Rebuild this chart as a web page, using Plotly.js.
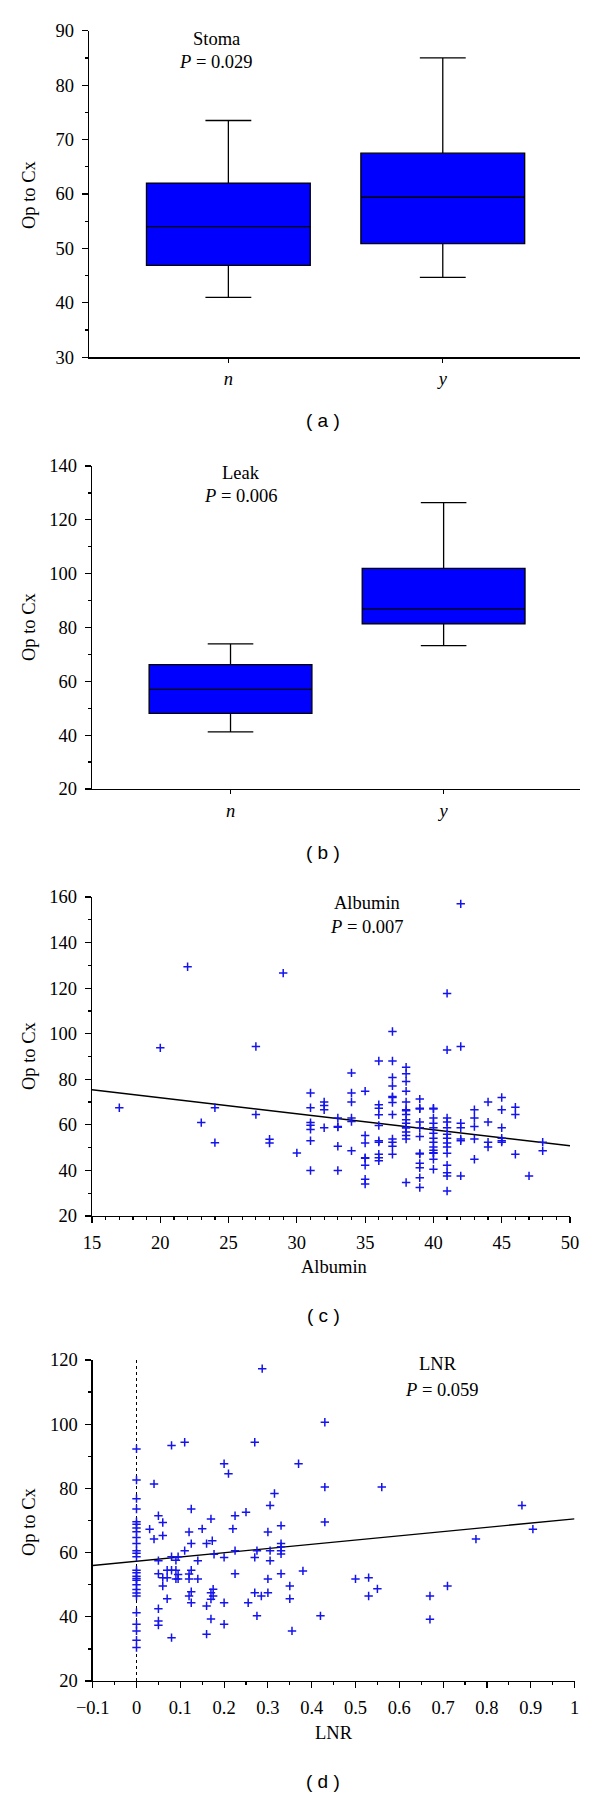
<!DOCTYPE html>
<html>
<head>
<meta charset="utf-8">
<script src="https://cdn.plot.ly/plotly-3.0.1.min.js"></script>
<style>html,body{margin:0;padding:0;background:#fff;}#chart{width:600px;height:1796px;}</style>
</head>
<body>
<div id="chart"></div>
<script>
// ---------- data ----------
var boxCats = ['n', 'y'];
var boxPos = [0, 1];
var tickLabelsBox = ['<i>n</i>', '<i>y</i>'];

// (a) Stoma
var stomaLow = [41, 44.7];
var stomaQ1 = [46.9, 50.9];
var stomaMed = [54, 59.4];
var stomaQ3 = [62, 67.5];
var stomaHigh = [73.5, 85];

// (b) Leak
var leakLow = [41.2, 73.3];
var leakQ1 = [48.1, 81.4];
var leakMed = [57, 86.9];
var leakQ3 = [66.2, 102];
var leakHigh = [73.9, 126.4];

// (c) Albumin vs Op to Cx
var albX = [17,20,22,23,24,24,27,27,28,28,29,30,
  31,31,31,31,31,31,31,
  32,32,32,32,
  33,33,33,33,33,
  34,34,34,34,34,34,
  35,35,35,35,35,35,35,35,
  36,36,36,36,36,36,36,36,36,36,
  37,37,37,37,37,37,37,37,37,37,37,37,
  38,38,38,38,38,38,38,38,38,38,38,38,38,38,38,38,
  39,39,39,39,39,39,39,39,39,39,39,39,
  40,40,40,40,40,40,40,40,40,40,40,40,40,40,
  41,41,41,41,41,41,41,41,41,41,41,41,41,41,
  42,42,42,42,42,42,42,
  43,43,43,43,43,
  44,44,44,44,
  45,45,45,45,45,45,
  46,46,46,
  47,
  48,48];
var albY = [67.5,93.8,129.4,61,67.5,52.2,94.4,64.5,53.7,52,126.6,47.7,
  74,67.5,61,59.8,58,53,40,
  70,68.5,66.6,58.7,
  63,59.3,59,50.6,40,
  82.8,74,70,63,61.5,48.6,
  74.8,55.3,52,45.6,45.3,42.3,36.1,34,
  88,68.8,67.3,64.4,59.7,53,52.4,47.1,45.6,44.2,
  101,88,80.8,77.1,72.4,72,69.8,64.5,53.8,52.4,50.6,47.1,
  85.3,82.4,79,74.8,70,66.6,66.2,64.5,62.2,60.7,59,58.6,56.9,55.3,53.8,34.7,
  71.3,67.3,67,61.2,58.7,54.9,47.5,47.2,43.1,41.2,36.8,32.5,
  67.3,67,63,60.7,58.7,56.3,54.1,52.4,50.3,48.9,47.8,47.5,44.9,40.5,
  117.7,92.9,63,61.2,58.7,55.9,54.1,52,50.3,47.5,42.3,39,37.6,31,
  157,94.4,60.7,58.7,53.8,53,37.6,
  66.6,63,59.3,53.8,44.9,
  70,61.2,52.4,50.3,
  72,66.6,58.7,54.1,53,52.4,
  67.7,64.5,47.1,
  37.6,
  52.4,48.6];
var albFitX = [15, 50];
var albFitY = [75.4, 50.8];

// (d) LNR vs Op to Cx
var lnrX = [0,0,0,0,0,0,0,0,0,0,0,0,0,0,0,0,0,0,0,0,0,0,0,0,0,0,0,
  0.03,0.04,0.04,0.05,0.05,0.05,0.05,0.05,0.05,
  0.06,0.06,0.06,0.06,0.07,0.07,0.07,
  0.08,0.08,0.08,0.08,0.09,0.09,0.09,0.095,0.095,0.095,
  0.11,0.11,0.12,0.12,0.12,0.12,
  0.125,0.125,0.125,0.125,0.125,0.14,0.14,0.15,
  0.16,0.16,0.16,0.17,0.17,0.173,0.177,0.17,0.17,0.175,0.175,
  0.2,0.2,0.2,0.2,0.21,0.22,0.225,0.225,0.225,0.25,0.255,
  0.27,0.27,0.27,0.275,0.275,0.287,0.285,
  0.3,0.3,0.3,0.305,0.305,0.305,0.315,
  0.33,0.33,0.33,0.33,0.33,0.33,
  0.35,0.35,0.355,0.37,0.38,0.42,0.43,0.43,0.43,
  0.5,0.53,0.53,0.55,0.56,0.67,0.67,0.71,0.775,0.88,0.905];
var lnrY = [92.3,82.6,76.8,73.6,69.6,68.8,67.7,66.5,64.7,62.8,60.6,59.8,58.7,54.5,53.7,52.6,51.9,51.4,50,48.5,47.4,46.5,41.3,37.7,35.6,32.7,30.4,
  67.3,81.4,64.2,71.5,57.5,53.4,42.5,38.7,37.4,
  69.4,65.3,52.2,49.6,54.5,52.2,45.6,
  93.4,58.7,54.5,33.5,57.6,54.5,51.8,58.7,53.2,51.8,
  60.6,94.4,66.4,53.3,51.8,46.5,
  73.6,62.8,54.5,47.8,44.4,51.8,57.5,67.4,
  34.6,43.4,62.8,70.5,39.3,63.7,59.5,47.5,45.5,48.6,46.5,
  87.7,58.5,44.4,37.7,84.6,67.4,71.5,60.6,53.4,72.6,44.4,
  94.4,58.5,47.5,40.3,60.6,117.3,46.5,
  66.4,51.8,47.5,74.7,60.6,57.5,78.4,
  68.4,62.8,61.8,60.6,59.6,53.4,
  49.6,45.6,35.6,87.7,54.3,40.3,100.6,80.4,69.5,
  51.8,52.2,46.5,48.7,80.4,46.5,39.2,49.6,64.2,74.7,67.3];
var lnrFitX = [-0.1, 1];
var lnrFitY = [56, 70.5];
var zeroRefX = [0, 0];
var zeroRefY = [20, 120];

// ---------- layout helpers ----------
var W = 600, H = 1796;
function dx(a, b) { return [a / W, b / W]; }
function dy(top, bottom) { return [1 - bottom / H, 1 - top / H]; }
var SERIF = 'Liberation Serif, Times New Roman, serif';
var SANS = 'Liberation Sans, Arial, sans-serif';
var BLUE = 'rgb(0,0,255)';
var PT = 'rgb(20,20,235)';
var FS = 18.5;

function axisBase(extra) {
  var o = {
    showline: true, linecolor: '#000', linewidth: 1.3, mirror: false,
    showgrid: false, zeroline: false,
    ticks: 'outside', ticklen: 6, tickwidth: 1.2, tickcolor: '#000',
    tickfont: {family: SERIF, size: FS, color: '#000'},
    fixedrange: true
  };
  for (var k in extra) o[k] = extra[k];
  return o;
}
var MINOR = function (d) { return {ticks: 'outside', dtick: d, ticklen: 3, tickcolor: '#000', tickwidth: 1.2}; };

function boxTrace(xa, ya, q1, med, q3, lo, hi) {
  return {
    type: 'box', xaxis: xa, yaxis: ya,
    x: boxPos, q1: q1, median: med, q3: q3, lowerfence: lo, upperfence: hi,
    width: 0.764, whiskerwidth: 0.28,
    fillcolor: BLUE, line: {color: '#000', width: 1.3},
    boxpoints: false, hoverinfo: 'skip', name: boxCats.join('/')
  };
}

var traces = [
  boxTrace('x', 'y', stomaQ1, stomaMed, stomaQ3, stomaLow, stomaHigh),
  boxTrace('x2', 'y2', leakQ1, leakMed, leakQ3, leakLow, leakHigh),
  {type: 'scatter', mode: 'lines', xaxis: 'x3', yaxis: 'y3', x: albFitX, y: albFitY,
   line: {color: '#000', width: 1.4}, hoverinfo: 'skip'},
  {type: 'scatter', mode: 'markers', xaxis: 'x3', yaxis: 'y3', x: albX, y: albY,
   marker: {symbol: 'cross-thin', size: 6, color: PT, line: {color: PT, width: 1.5}}},
  {type: 'scatter', mode: 'lines', xaxis: 'x4', yaxis: 'y4', x: zeroRefX, y: zeroRefY,
   line: {color: '#000', width: 1, dash: 'dot'}, hoverinfo: 'skip'},
  {type: 'scatter', mode: 'lines', xaxis: 'x4', yaxis: 'y4', x: lnrFitX, y: lnrFitY,
   line: {color: '#000', width: 1.4}, hoverinfo: 'skip'},
  {type: 'scatter', mode: 'markers', xaxis: 'x4', yaxis: 'y4', x: lnrX, y: lnrY,
   marker: {symbol: 'cross-thin', size: 6, color: PT, line: {color: PT, width: 1.5}}}
];

function ann(x, y, text, opts) {
  var a = {x: x, y: y, text: text, showarrow: false,
    font: {family: SERIF, size: FS, color: '#000'}, xanchor: 'center', yanchor: 'middle'};
  for (var k in opts) a[k] = opts[k];
  return a;
}
function pann(px, py, text, opts) {
  var o = {xref: 'paper', yref: 'paper'};
  for (var k in opts) o[k] = opts[k];
  return ann(px / W, 1 - py / H, text, o);
}
var CAP = {family: SANS, size: 19, color: '#000'};

var layout = {
  width: W, height: H,
  margin: {l: 0, r: 0, t: 0, b: 0},
  paper_bgcolor: '#fff', plot_bgcolor: '#fff',
  showlegend: false,
  xaxis: axisBase({domain: dx(89, 580), range: [-0.65, 1.64], tickvals: boxPos, ticktext: tickLabelsBox, ticklen: 4, anchor: 'y'}),
  yaxis: axisBase({domain: dy(30.7, 357.3), range: [30, 90], dtick: 10, anchor: 'x', ticklabelstandoff: 4, minor: MINOR(5)}),
  xaxis2: axisBase({domain: dx(92, 580), range: [-0.65, 1.64], tickvals: boxPos, ticktext: tickLabelsBox, ticklen: 4, anchor: 'y2'}),
  yaxis2: axisBase({domain: dy(466, 789), range: [20, 140], dtick: 20, anchor: 'x2', ticklabelstandoff: 4, minor: MINOR(10)}),
  xaxis3: axisBase({domain: dx(92, 570), range: [15, 50], dtick: 5, anchor: 'y3', ticklabelstandoff: 3, minor: MINOR(1)}),
  yaxis3: axisBase({domain: dy(897, 1216), range: [20, 160], dtick: 20, anchor: 'x3', ticklabelstandoff: 4, minor: MINOR(10)}),
  xaxis4: axisBase({domain: dx(92.7, 574.5), range: [-0.1, 1], dtick: 0.1, tick0: 0, anchor: 'y4', ticklabelstandoff: 3, minor: MINOR(0.05)}),
  yaxis4: axisBase({domain: dy(1360, 1681), range: [20, 120], dtick: 20, anchor: 'x4', ticklabelstandoff: 4, minor: MINOR(10)}),
  annotations: [
    ann(-0.057, 88.4, 'Stoma', {xref: 'x', yref: 'y'}),
    ann(-0.057, 84.3, '<i>P</i> = 0.029', {xref: 'x', yref: 'y'}),
    ann(0.05, 137.3, 'Leak', {xref: 'x2', yref: 'y2'}),
    ann(0.05, 128.9, '<i>P</i> = 0.006', {xref: 'x2', yref: 'y2'}),
    ann(35.1, 157.5, 'Albumin', {xref: 'x3', yref: 'y3'}),
    ann(35.1, 147, '<i>P</i> = 0.007', {xref: 'x3', yref: 'y3'}),
    ann(0.688, 118.7, 'LNR', {xref: 'x4', yref: 'y4'}),
    ann(0.698, 110.7, '<i>P</i> = 0.059', {xref: 'x4', yref: 'y4'}),
    pann(29, 195, 'Op to Cx', {textangle: -90}),
    pann(29, 627, 'Op to Cx', {textangle: -90}),
    pann(29, 1056, 'Op to Cx', {textangle: -90}),
    pann(29, 1522, 'Op to Cx', {textangle: -90}),
    pann(334, 1267, 'Albumin'),
    pann(334, 1733, 'LNR'),
    pann(323, 420, '( a )', {font: CAP}),
    pann(323, 852, '( b )', {font: CAP}),
    pann(323, 1315, '( c )', {font: CAP}),
    pann(323, 1781, '( d )', {font: CAP})
  ]
};

Plotly.newPlot('chart', traces, layout, {staticPlot: true, displayModeBar: false});
</script>
</body>
</html>
